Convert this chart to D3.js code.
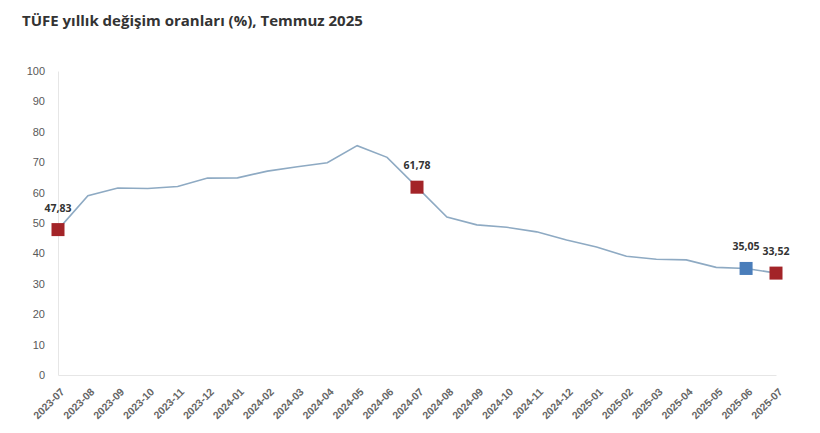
<!DOCTYPE html>
<html>
<head>
<meta charset="utf-8">
<script src="https://cdn.jsdelivr.net/npm/d3@7"></script>
<style>
  body { margin: 0; background: #fff; }
  svg { display: block; font-family: "Open Sans", "Noto Sans", sans-serif; }
</style>
</head>
<body>
<div id="chart"></div>
<script>
const months = ["2023-07","2023-08","2023-09","2023-10","2023-11","2023-12",
  "2024-01","2024-02","2024-03","2024-04","2024-05","2024-06","2024-07",
  "2024-08","2024-09","2024-10","2024-11","2024-12","2025-01","2025-02",
  "2025-03","2025-04","2025-05","2025-06","2025-07"];
const values = [47.83,58.94,61.53,61.36,61.98,64.77,64.86,67.07,68.50,69.80,75.45,71.60,61.78,
  51.97,49.38,48.58,47.09,44.38,42.12,39.05,38.10,37.86,35.41,35.05,33.52];
// highlighted points: [month, colour]
const highlights = [["2023-07","red"],["2024-07","red"],["2025-06","blue"],["2025-07","red"]];
const yTicks = [0,10,20,30,40,50,60,70,80,90,100];

const width = 820, height = 433;
const margin = {top: 71, right: 44, bottom: 58, left: 58};
const colors = {red: "#a32428", blue: "#4a7dba"};

const svg = d3.select("#chart").append("svg")
  .attr("width", width).attr("height", height);

svg.append("text")
  .attr("x", 22).attr("y", 26)
  .attr("font-size", 15).attr("font-weight", 700).attr("fill", "#333")
  .text("TÜFE yıllık değişim oranları (%), Temmuz 2025");

const x = d3.scalePoint().domain(months).range([margin.left, width - margin.right]);
const y = d3.scaleLinear().domain([0, 100]).range([height - margin.bottom, margin.top]);

// axes
const gy = svg.append("g").attr("transform", `translate(${margin.left},0)`)
  .call(d3.axisLeft(y).tickValues(yTicks).tickSize(0).tickPadding(13));
gy.select(".domain").attr("stroke", "#e6e6e6");
gy.selectAll("text").attr("font-size", 11).attr("fill", "#595959")
  .attr("font-family", "inherit");

const gx = svg.append("g").attr("transform", `translate(0,${height - margin.bottom})`)
  .call(d3.axisBottom(x).tickSize(0).tickPadding(0));
gx.select(".domain").attr("stroke", "#e6e6e6");
gx.selectAll("text")
  .attr("font-size", 10.5).attr("font-weight", 600).attr("fill", "#666")
  .attr("font-family", "inherit")
  .attr("text-anchor", "end").attr("dy", "0.35em")
  .attr("transform", "translate(4,15) rotate(-45)");

// line
const line = d3.line().x((d, i) => x(months[i])).y(d => y(d));
svg.append("path").datum(values)
  .attr("fill", "none").attr("stroke", "#8eaac3").attr("stroke-width", 1.6)
  .attr("d", line);

// markers + labels
const s = 13;
const hl = highlights.map(([m, c]) => ({m, c, v: values[months.indexOf(m)]}));
svg.append("g").selectAll("rect").data(hl).join("rect")
  .attr("x", d => x(d.m) - s / 2).attr("y", d => y(d.v) - s / 2)
  .attr("width", s).attr("height", s)
  .attr("fill", d => colors[d.c]);

const fmt = d => d3.format(".2f")(d).replace(".", ",");
svg.append("g").selectAll("text").data(hl).join("text")
  .attr("x", d => x(d.m)).attr("y", d => y(d.v) - 18)
  .attr("text-anchor", "middle")
  .attr("font-size", 10.5).attr("font-weight", 700).attr("fill", "#333")
  .text(d => fmt(d.v));
</script>
</body>
</html>
